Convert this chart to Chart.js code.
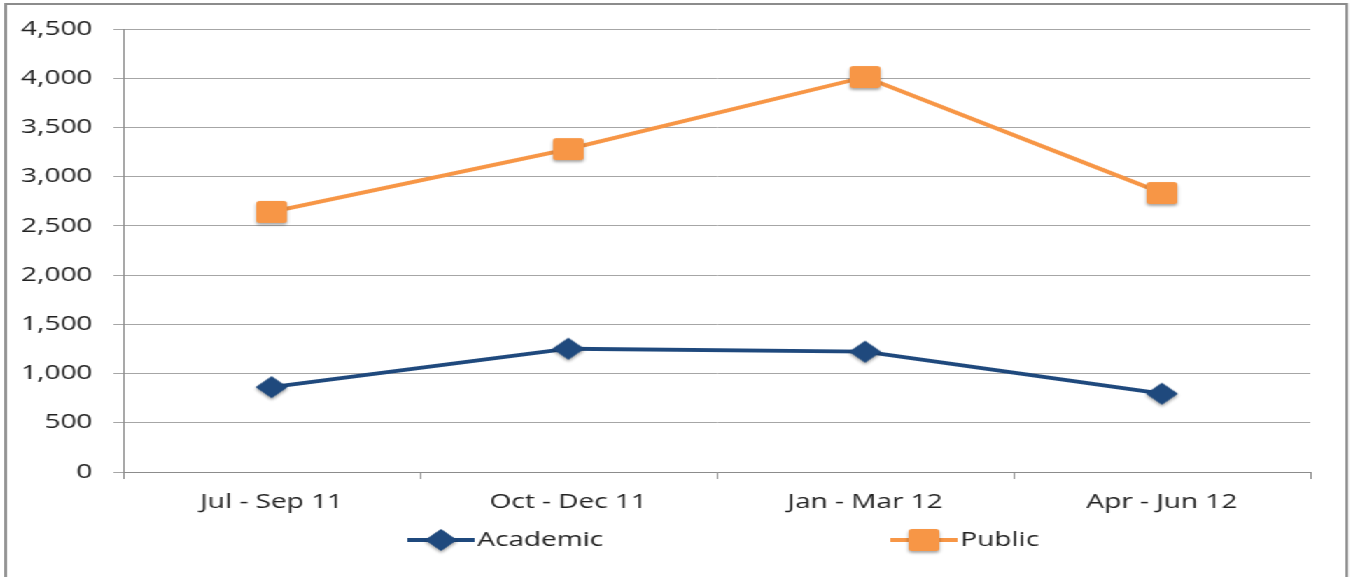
<!DOCTYPE html>
<html><head>
<meta charset="UTF-8">
<title>Academic vs Public</title>
<style>
  body { margin: 0; background: #fff; overflow: hidden; }
  /* the original picture is stretched sideways, so draw narrow and scale */
  #stage { position: absolute; left: 0; top: 0; width: 964px; height: 577px; transform: scaleX(1.4); transform-origin: 0 0; }
  #frame { position: absolute; left: 3px; top: 3px; width: 960px; height: 640px; border: 2px solid #8c8c8c; box-sizing: border-box; }
  #chart { position: absolute; left: 0; top: 0; }
</style>
<script src="https://cdn.jsdelivr.net/npm/chart.js"></script>
</head>
<body>
  <div id="stage">
    <div id="frame"></div>
    <canvas id="chart" width="964" height="577"></canvas>
  </div>

  <script>
    var quarters = ['Jul - Sep 11', 'Oct - Dec 11', 'Jan - Mar 12', 'Apr - Jun 12'];
    var academic = [862, 1252, 1222, 795];
    var publicUse = [2642, 3280, 4012, 2834];
    var yMin = 0, yMax = 4500, yStep = 500;

    var font = { family: "'Open Sans', sans-serif", size: 20 };
    var textColor = '#222222';
    var blue = '#1f497d';
    var orange = '#f79646';

    // marker images with a soft drop shadow, like the office chart
    function makeMarker(color, shape) {
      var c = document.createElement('canvas');
      c.width = 36; c.height = 36;
      var g = c.getContext('2d');
      g.shadowColor = 'rgba(0,0,0,0.35)';
      g.shadowBlur = 3;
      g.shadowOffsetY = 2;
      g.fillStyle = color;
      g.beginPath();
      if (shape === 'square') {
        g.roundRect(7, 7, 22, 22, 2.5);
      } else {
        g.moveTo(18, 7);
        g.lineTo(29.5, 18);
        g.lineTo(18, 29);
        g.lineTo(6.5, 18);
        g.closePath();
      }
      g.fill();
      return c;
    }
    var diamond = makeMarker(blue, 'diamond');
    var square = makeMarker(orange, 'square');

    // legend drawn by hand: line, marker, label
    var legendPlugin = {
      id: 'lineLegend',
      afterDraw: function (chart) {
        var ctx = chart.ctx;
        var y = 540;
        var starts = [291, 636];
        ctx.save();
        chart.data.datasets.forEach(function (ds, i) {
          var x0 = starts[i];
          ctx.strokeStyle = ds.borderColor;
          ctx.lineWidth = 3.8;
          ctx.beginPath();
          ctx.moveTo(x0, y);
          ctx.lineTo(x0 + 48, y);
          ctx.stroke();
          ctx.drawImage(ds.pointStyle, x0 + 24 - 18, y - 18);
          ctx.fillStyle = textColor;
          ctx.font = font.size + 'px ' + font.family;
          ctx.textBaseline = 'middle';
          ctx.textAlign = 'left';
          ctx.fillText(ds.label, x0 + 50, y);
        });
        ctx.restore();
      }
    };

    new Chart(document.getElementById('chart'), {
      type: 'line',
      data: {
        labels: quarters,
        datasets: [{
          label: 'Academic',
          data: academic,
          borderColor: blue,
          backgroundColor: blue,
          borderWidth: 3.8,
          pointStyle: diamond,
          pointRadius: 12,
          pointHoverRadius: 12,
          tension: 0
        }, {
          label: 'Public',
          data: publicUse,
          borderColor: orange,
          backgroundColor: orange,
          borderWidth: 3.8,
          pointStyle: square,
          pointRadius: 12,
          pointHoverRadius: 12,
          tension: 0
        }]
      },
      options: {
        responsive: false,
        animation: false,
        clip: false,
        layout: { padding: { left: 0, right: 28, top: 29, bottom: 0 } },
        plugins: {
          legend: { display: false },
          tooltip: { enabled: false }
        },
        scales: {
          x: {
            offset: true,
            grid: { offset: true, drawOnChartArea: false, tickLength: 7, color: '#8c8c8c' },
            border: { color: '#8c8c8c' },
            ticks: { font: font, color: textColor, padding: 11, maxRotation: 0 },
            afterFit: function (s) { s.height = 105; }
          },
          y: {
            min: yMin,
            max: yMax,
            ticks: {
              stepSize: yStep,
              font: font,
              color: textColor,
              padding: 15,
              callback: function (v) { return v.toLocaleString('en-US'); }
            },
            grid: { color: '#a6a6a6', tickLength: 7 },
            border: { color: '#8c8c8c' },
            afterFit: function (s) { s.width = 88; }
          }
        }
      },
      plugins: [legendPlugin]
    });
  </script>
</body>
</html>
